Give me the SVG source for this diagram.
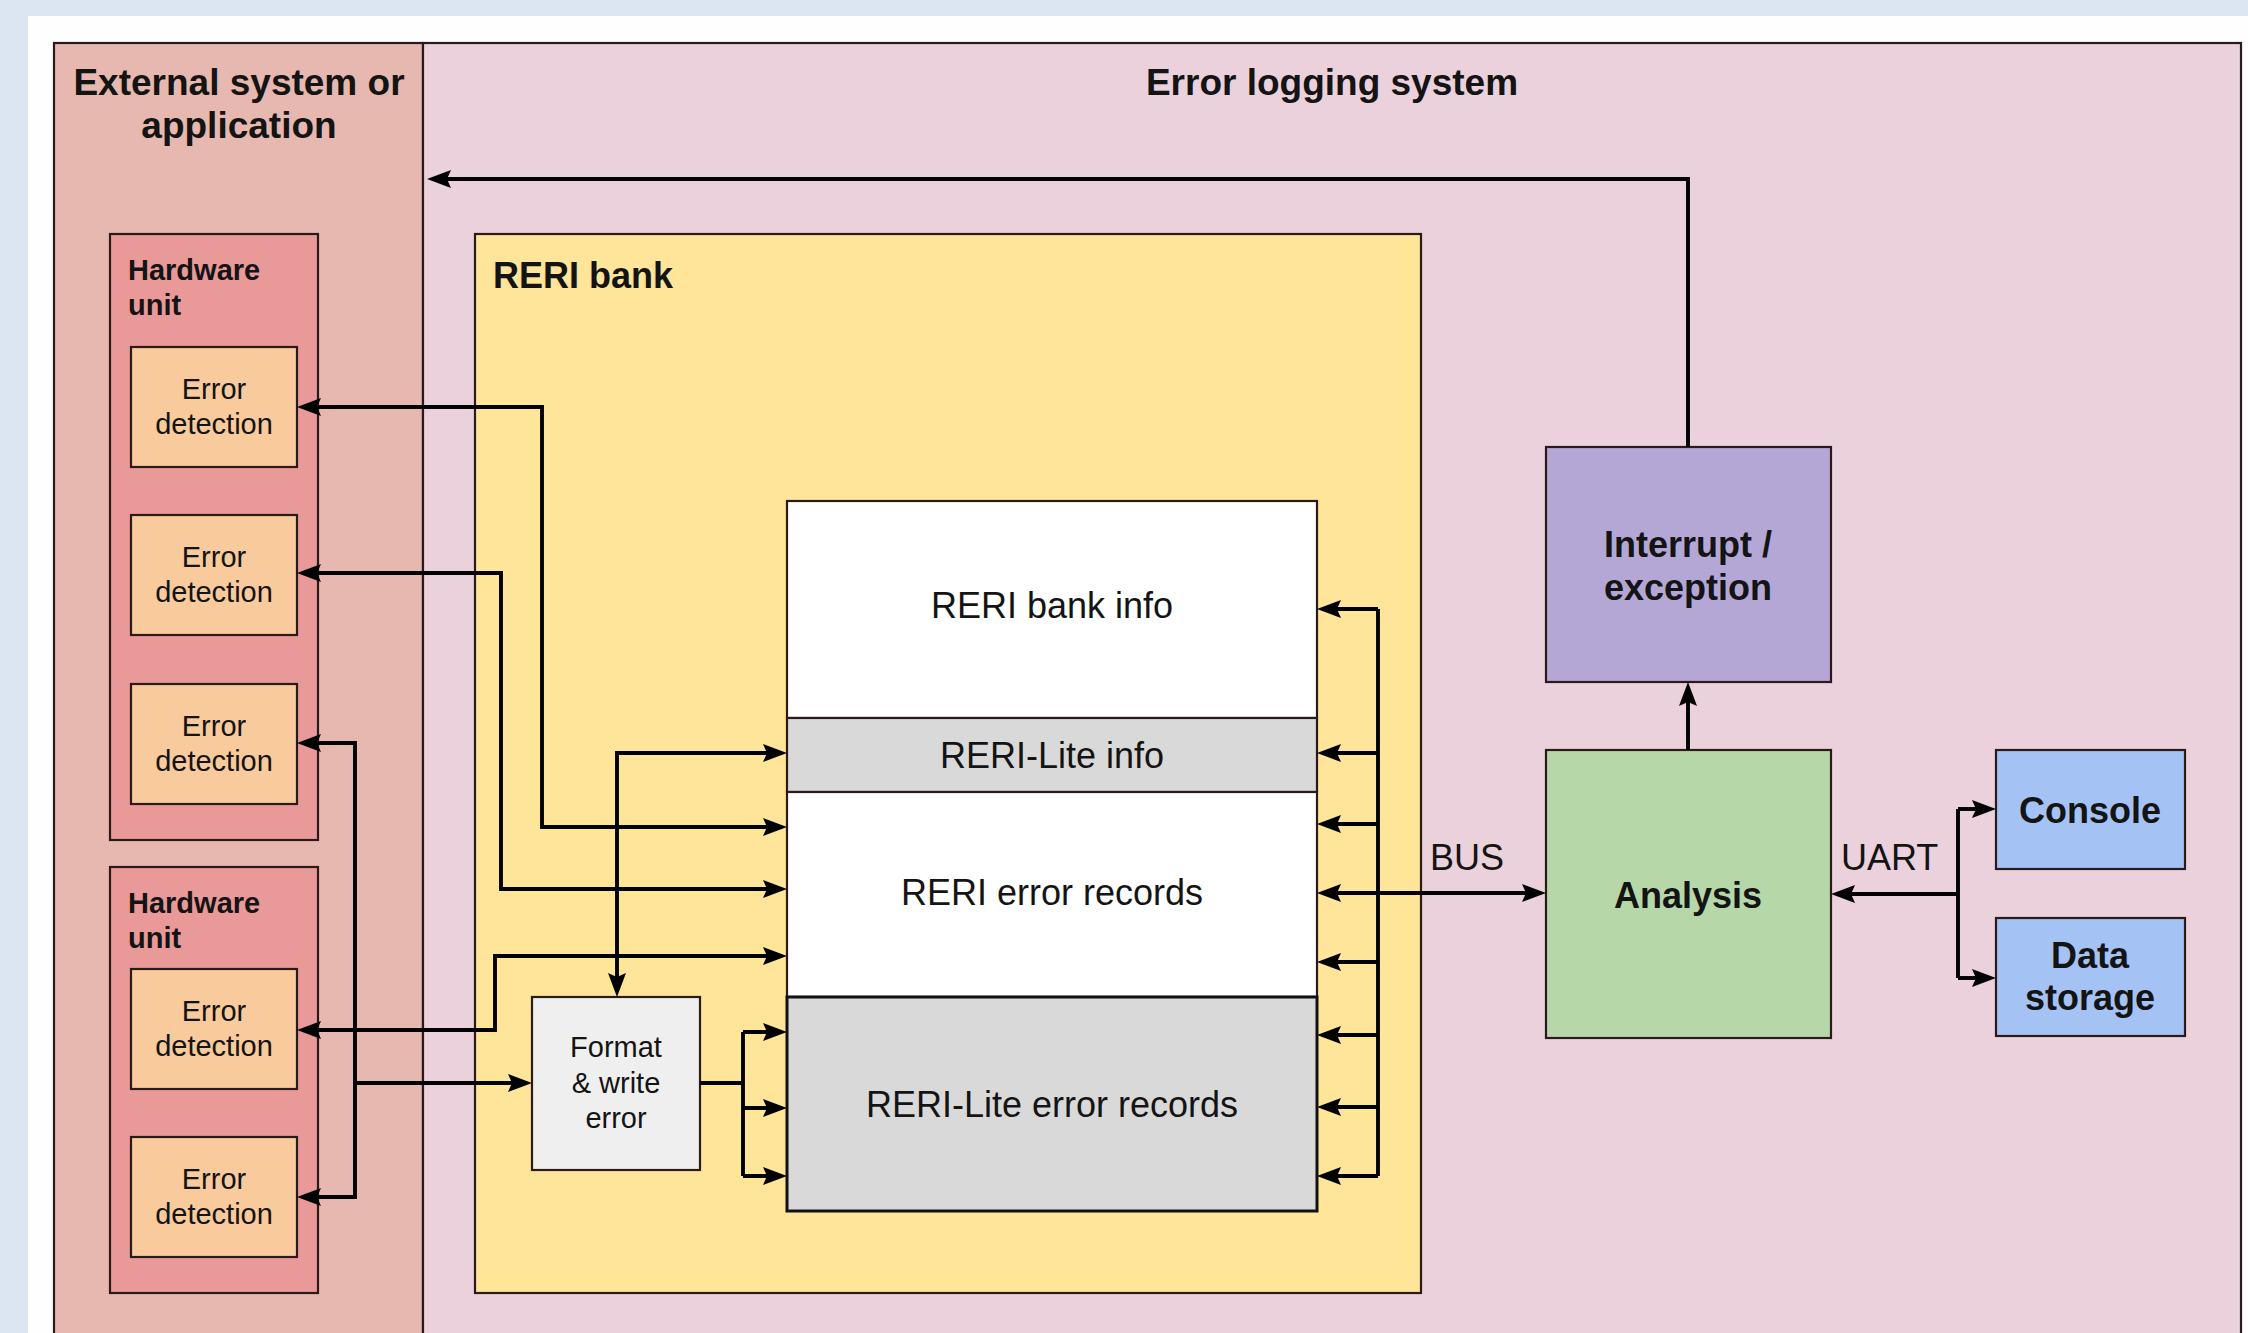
<svg xmlns="http://www.w3.org/2000/svg" width="2248" height="1333" viewBox="0 0 2248 1333">
  <style>
    text { font-family: "Liberation Sans", Arial, sans-serif; fill: #141414; }
    .h { font-size: 37px; font-weight: bold; }
    .t { font-size: 36px; }
    .tb { font-size: 36px; font-weight: bold; }
    .s { font-size: 29px; }
    .sb { font-size: 29px; font-weight: bold; }
    .mid { text-anchor: middle; }
    .box { stroke: #2a1a1a; stroke-width: 2.2; }
    .wire { fill: none; stroke: #000; stroke-width: 3.9; }
    .arr { marker-end: url(#arrow); }
    .arr2 { marker-start: url(#arrow); marker-end: url(#arrow); }
  </style>
  <defs>
    <marker id="arrow" viewBox="0 0 24 18" refX="13" refY="9" markerWidth="24" markerHeight="18" markerUnits="userSpaceOnUse" orient="auto-start-reverse">
      <path d="M0,0 L24,9 L0,18 L4,9 Z" fill="#000"/>
    </marker>
  </defs>

  <!-- page background -->
  <rect x="0" y="0" width="2248" height="1333" fill="#dce6f2"/>
  <rect x="28" y="16" width="2220" height="1317" fill="#fefefe"/>

  <!-- system regions -->
  <g id="external-system">
    <rect class="box" x="54" y="43" width="369" height="1300" fill="#e6b8af"/>
    <text class="h mid" x="239" y="95">External system or</text>
    <text class="h mid" x="239" y="138">application</text>
  </g>
  <g id="error-logging-system">
    <rect class="box" x="423" y="43" width="1818" height="1300" fill="#ead1dc"/>
    <text class="h mid" x="1332" y="95">Error logging system</text>
  </g>

  <!-- hardware units -->
  <g id="hardware-unit-1">
    <rect class="box" x="110" y="234" width="208" height="606" fill="#ea9999"/>
    <text class="sb" x="128" y="280">Hardware</text>
    <text class="sb" x="128" y="315">unit</text>
  </g>
  <g id="hardware-unit-2">
    <rect class="box" x="110" y="867" width="208" height="426" fill="#ea9999"/>
    <text class="sb" x="128" y="913">Hardware</text>
    <text class="sb" x="128" y="948">unit</text>
  </g>

  <g id="error-detection-1">
    <rect class="box" x="131" y="347" width="166" height="120" fill="#f9cb9c"/>
    <text class="s mid" x="214" y="399">Error</text>
    <text class="s mid" x="214" y="434">detection</text>
  </g>
  <g id="error-detection-2">
    <rect class="box" x="131" y="515" width="166" height="120" fill="#f9cb9c"/>
    <text class="s mid" x="214" y="567">Error</text>
    <text class="s mid" x="214" y="602">detection</text>
  </g>
  <g id="error-detection-3">
    <rect class="box" x="131" y="684" width="166" height="120" fill="#f9cb9c"/>
    <text class="s mid" x="214" y="736">Error</text>
    <text class="s mid" x="214" y="771">detection</text>
  </g>
  <g id="error-detection-4">
    <rect class="box" x="131" y="969" width="166" height="120" fill="#f9cb9c"/>
    <text class="s mid" x="214" y="1021">Error</text>
    <text class="s mid" x="214" y="1056">detection</text>
  </g>
  <g id="error-detection-5">
    <rect class="box" x="131" y="1137" width="166" height="120" fill="#f9cb9c"/>
    <text class="s mid" x="214" y="1189">Error</text>
    <text class="s mid" x="214" y="1224">detection</text>
  </g>

  <!-- RERI bank -->
  <g id="reri-bank">
    <rect class="box" x="475" y="234" width="946" height="1059" fill="#ffe599"/>
    <text class="tb" x="493" y="288">RERI bank</text>
  </g>
  <g id="reri-bank-info">
    <rect class="box" x="787" y="501" width="530" height="217" fill="#ffffff"/>
    <text class="t mid" x="1052" y="618">RERI bank info</text>
  </g>
  <g id="reri-lite-info">
    <rect class="box" x="787" y="718" width="530" height="74" fill="#d9d9d9"/>
    <text class="t mid" x="1052" y="768">RERI-Lite info</text>
  </g>
  <g id="reri-error-records">
    <rect class="box" x="787" y="792" width="530" height="205" fill="#ffffff"/>
    <text class="t mid" x="1052" y="905">RERI error records</text>
  </g>
  <g id="reri-lite-error-records">
    <rect x="787" y="997" width="530" height="214" fill="#d9d9d9" stroke="#111" stroke-width="3"/>
    <text class="t mid" x="1052" y="1117">RERI-Lite error records</text>
  </g>
  <g id="format-write-error">
    <rect class="box" x="532" y="997" width="168" height="173" fill="#efefef"/>
    <text class="s mid" x="616" y="1057">Format</text>
    <text class="s mid" x="616" y="1093">&amp; write</text>
    <text class="s mid" x="616" y="1128">error</text>
  </g>

  <!-- analysis side -->
  <g id="interrupt-exception">
    <rect class="box" x="1546" y="447" width="285" height="235" fill="#b4a7d6"/>
    <text class="tb mid" x="1688" y="557">Interrupt /</text>
    <text class="tb mid" x="1688" y="600">exception</text>
  </g>
  <g id="analysis">
    <rect class="box" x="1546" y="750" width="285" height="288" fill="#b6d7a8"/>
    <text class="tb mid" x="1688" y="908">Analysis</text>
  </g>
  <g id="console">
    <rect class="box" x="1996" y="750" width="189" height="119" fill="#a4c2f4"/>
    <text class="tb mid" x="2090" y="823">Console</text>
  </g>
  <g id="data-storage">
    <rect class="box" x="1996" y="918" width="189" height="118" fill="#a4c2f4"/>
    <text class="tb mid" x="2090" y="968">Data</text>
    <text class="tb mid" x="2090" y="1010">storage</text>
  </g>

  <!-- connectors -->
  <g id="connectors">
    <!-- error detection units to/from the RERI bank -->
    <path class="wire arr2" d="M308,407 H542 V827 H776"/>
    <path class="wire arr2" d="M308,573 H501 V889 H776"/>
    <path class="wire arr2" d="M308,1030 H495 V956 H776"/>
    <path class="wire arr2" d="M308,743 H355 V1197 H308"/>
    <path class="wire arr" d="M355,1083 H521"/>

    <!-- RERI-Lite info and format/write path -->
    <path class="wire arr2" d="M776,753 H617 V986"/>
    <path class="wire" d="M700,1083 H743 M743,1032 V1176"/>
    <path class="wire arr" d="M743,1032 H776"/>
    <path class="wire arr" d="M743,1108 H776"/>
    <path class="wire arr" d="M743,1176 H776"/>

    <!-- bus side fan-out into the register stack -->
    <path class="wire" d="M1378,609 V1176"/>
    <path class="wire arr" d="M1378,609 H1328"/>
    <path class="wire arr" d="M1378,753 H1328"/>
    <path class="wire arr" d="M1378,824 H1328"/>
    <path class="wire arr" d="M1378,962 H1328"/>
    <path class="wire arr" d="M1378,1035 H1328"/>
    <path class="wire arr" d="M1378,1107 H1328"/>
    <path class="wire arr" d="M1378,1176 H1328"/>
    <path class="wire arr2" d="M1328,893 H1535"/>

    <!-- analysis, interrupt and return to the external system -->
    <path class="wire arr" d="M1688,750 V693"/>
    <path class="wire arr" d="M1688,447 V179 H438"/>

    <!-- UART outputs -->
    <path class="wire arr" d="M1958,894 H1842"/>
    <path class="wire" d="M1958,809 V978"/>
    <path class="wire arr" d="M1958,809 H1985"/>
    <path class="wire arr" d="M1958,978 H1985"/>
  </g>

  <!-- link labels -->
  <text class="t" x="1430" y="870">BUS</text>
  <text class="t" x="1841" y="870">UART</text>
</svg>
